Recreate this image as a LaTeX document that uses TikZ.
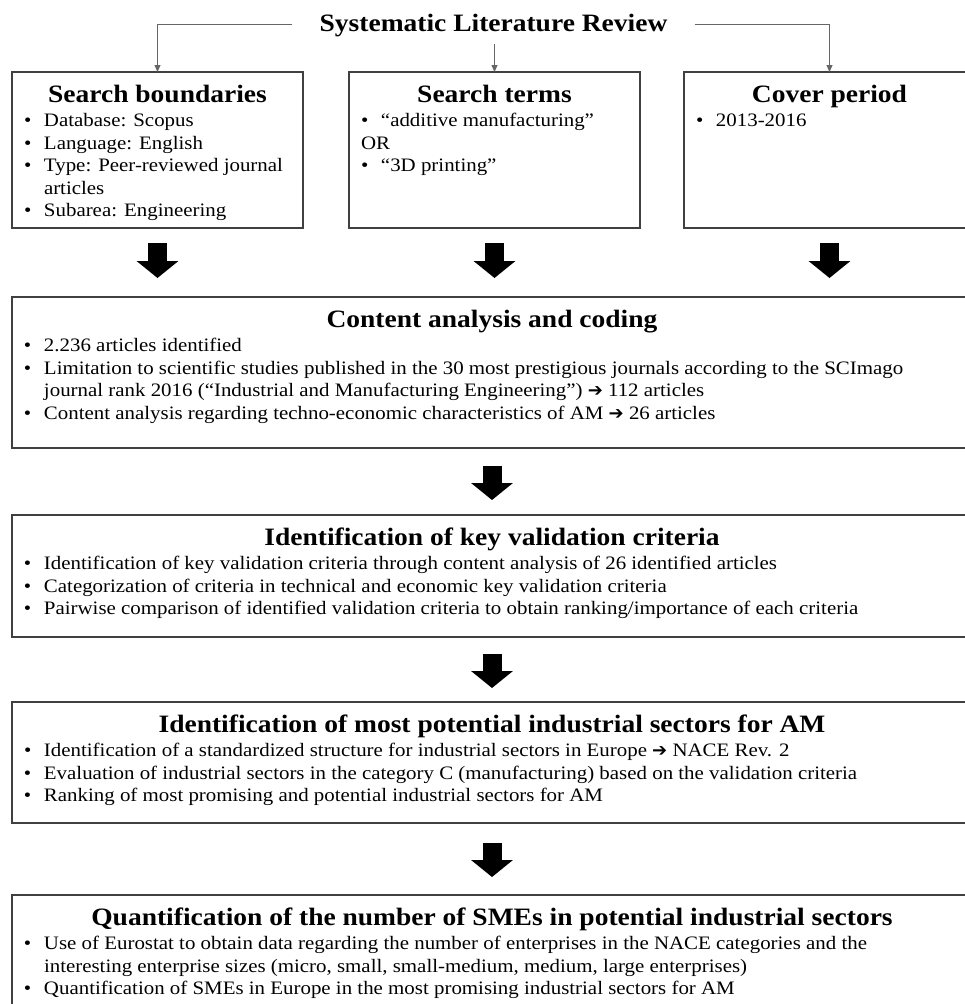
\documentclass[tikz,border=0pt]{standalone}
\usepackage{fontspec}
\setmainfont{Liberation Serif}[FakeStretch=1.1]
\newfontfamily\arrowfont{DejaVu Sans}
\usetikzlibrary{arrows.meta,positioning,calc}

% text sizes (1bp = 1 pixel of the figure)
\newcommand{\bodysize}{\fontsize{19bp}{22.5bp}\selectfont}
\newcommand{\headsize}{\fontsize{25bp}{30bp}\selectfont\bfseries}
\newcommand{\ra}{{\arrowfont\fontsize{18bp}{22.5bp}\selectfont ➔}}
\newcommand{\bitem}[1]{\par\noindent\hangindent=20bp\hangafter=1%
  \makebox[20bp][l]{\textbullet}#1}
% #1 height, #2 width, #3 heading, #4 body
\newcommand{\stagetext}[4]{\parbox[c][#1][t]{#2}{\bodysize\raggedright
  {\centering\headsize\rule{0pt}{30bp}#3\par}\vspace{2bp}#4}}

\begin{document}
\begin{tikzpicture}[
  x=1bp, y=-1bp,
  stage/.style={draw=black!75, line width=1.1bp, inner xsep=12bp,
    inner ysep=0pt, outer sep=0pt, anchor=north west},
  heading/.style={font=\headsize, inner xsep=27bp, inner ysep=0pt,
    minimum height=36bp},
  feeder/.style={draw=black!60, line width=0.8bp,
    -{Triangle[width=6bp,length=7bp]}},
  blockarrow/.style={draw=black, line width=19bp,
    -{Triangle[width=41bp,length=17bp]}}
]
\useasboundingbox (0,0) rectangle (965,1004);
\clip (0,0) rectangle (965,1004);

% Review
\node[heading] (slr) at (493.5,26) {Systematic Literature Review};

% Three search settings
\node[stage] (bound) at (12,72)
  {\stagetext{156bp}{267bp}{Search boundaries}{%
    \bitem{Database: Scopus}
    \bitem{Language: English}
    \bitem{Type: Peer-reviewed journal\newline articles}
    \bitem{Subarea: Engineering}}};
\node[stage] (terms) at (349,72)
  {\stagetext{156bp}{267bp}{Search terms}{%
    \bitem{“additive manufacturing”}
    \par\noindent OR
    \bitem{“3D printing”}}};
\node[stage] (period) at (684,72)
  {\stagetext{156bp}{267bp}{Cover period}{%
    \bitem{2013-2016}}};

% Analysis steps
\node[stage, below=69bp of bound.south west, anchor=north west] (content)
  {\stagetext{151bp}{936bp}{Content analysis and coding}{%
    \bitem{2.236 articles identified}
    \bitem{Limitation to scientific studies published in the 30 most prestigious journals according to the SCImago\newline journal rank 2016 (“Industrial and Manufacturing Engineering”) \ra\ 112 articles}
    \bitem{Content analysis regarding techno-economic characteristics of AM \ra\ 26 articles}}};
\node[stage, below=67bp of content.south west, anchor=north west] (criteria)
  {\stagetext{122bp}{936bp}{Identification of key validation criteria}{%
    \bitem{Identification of key validation criteria through content analysis of 26 identified articles}
    \bitem{Categorization of criteria in technical and economic key validation criteria}
    \bitem{Pairwise comparison of identified validation criteria to obtain ranking/importance of each criteria}}};
\node[stage, below=65bp of criteria.south west, anchor=north west] (sectors)
  {\stagetext{121bp}{936bp}{Identification of most potential industrial sectors for AM}{%
    \bitem{Identification of a standardized structure for industrial sectors in Europe \ra\ NACE Rev. 2}
    \bitem{Evaluation of industrial sectors in the category C (manufacturing) based on the validation criteria}
    \bitem{Ranking of most promising and potential industrial sectors for AM}}};
\node[stage, below=72bp of sectors.south west, anchor=north west] (smes)
  {\stagetext{125bp}{936bp}{Quantification of the number of SMEs in potential industrial sectors}{%
    \bitem{Use of Eurostat to obtain data regarding the number of enterprises in the NACE categories and the\newline interesting enterprise sizes (micro, small, small-medium, medium, large enterprises)}
    \bitem{Quantification of SMEs in Europe in the most promising industrial sectors for AM}}};

% Thin arrows
\draw[feeder] ([yshift=2bp]slr.west) -| (bound.north);
\draw[feeder] (slr.south -| terms.north) -- (terms.north);
\draw[feeder] ([yshift=2bp]slr.east) -| (period.north);

% Block arrows
\draw[blockarrow, shorten <=15bp, shorten >=19bp] (bound.south) -- (bound.south |- content.north);
\draw[blockarrow, shorten <=15bp, shorten >=19bp] (terms.south) -- (terms.south |- content.north);
\draw[blockarrow, shorten <=15bp, shorten >=19bp] (period.south) -- (period.south |- content.north);
\draw[blockarrow, shorten <=18bp, shorten >=15bp] (content.south) -- (criteria.north);
\draw[blockarrow, shorten <=17bp, shorten >=14bp] (criteria.south) -- (sectors.north);
\draw[blockarrow, shorten <=20bp, shorten >=18bp] (sectors.south) -- (smes.north);
\end{tikzpicture}
\end{document}
